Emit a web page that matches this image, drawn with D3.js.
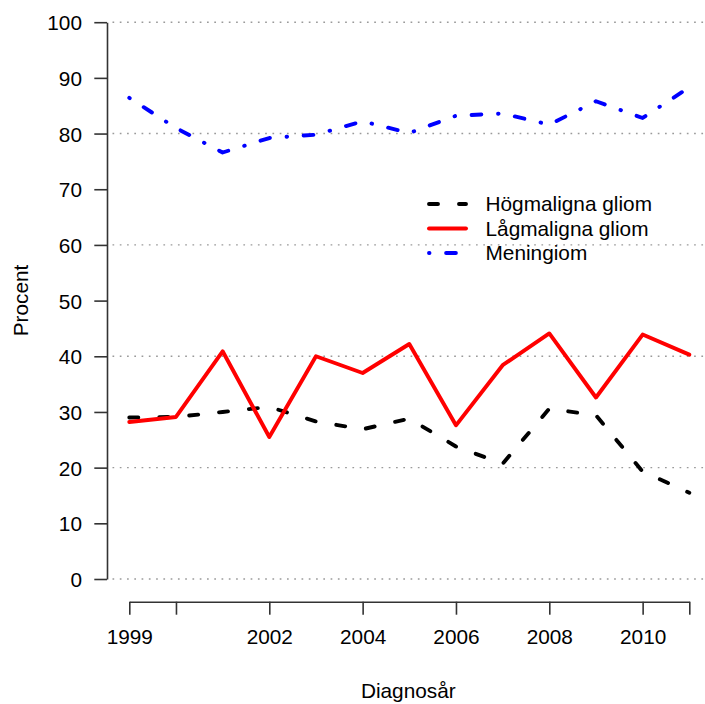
<!DOCTYPE html>
<html>
<head>
<meta charset="utf-8">
<script src="https://cdn.jsdelivr.net/npm/d3@7"></script>
<style>
  html, body { margin: 0; padding: 0; background: #fff; }
  svg { display: block; }
  text { font-family: "Liberation Sans", Arial, Helvetica, sans-serif; fill: #000; }
</style>
</head>
<body>
<svg id="chart" width="705" height="704"></svg>
<script>
// Diagnosis years
const years = [1999, 2000, 2001, 2002, 2003, 2004, 2005, 2006, 2007, 2008, 2009, 2010, 2011];

// Percentages per tumour type
const hogmaligna = [29.0, 29.1, 30.0, 30.9, 28.3, 26.9, 28.8, 23.8, 20.7, 30.6, 29.4, 19.3, 15.5];
const lagmaligna = [28.2, 29.1, 40.9, 25.5, 40.0, 37.0, 42.2, 27.6, 38.4, 44.1, 32.6, 43.9, 40.3];
const meningiom  = [86.4, 81.0, 76.6, 79.2, 79.8, 82.2, 80.1, 83.2, 83.6, 81.6, 85.8, 82.8, 88.3];

const seriesNames = ["Högmaligna gliom", "Lågmaligna gliom", "Meningiom"];
const seriesValues = [hogmaligna, lagmaligna, meningiom];

// Axis ticks and labels
const yTicks = [0, 10, 20, 30, 40, 50, 60, 70, 80, 90, 100];
const gridValues = [0, 20, 40, 60, 80, 100];
const xTicks = [1999, 2000, 2002, 2004, 2006, 2008, 2010, 2011];
const xLabelled = [1999, 2002, 2004, 2006, 2008, 2010];
const xTitle = "Diagnosår";
const yTitle = "Procent";

// Line styles per series
const lineStyles = {
  "Högmaligna gliom": { color: "#000000", dash: "9,21" },
  "Lågmaligna gliom": { color: "#ff0000", dash: null },
  "Meningiom":        { color: "#0000ff", dash: "0.5,16.6,9.8,16.7" }
};

const FONT = 20.8;
const svg = d3.select("#chart");

const x = d3.scaleLinear().domain([1999, 2011]).range([129.3, 689.3]);
const y = d3.scaleLinear().domain([0, 100]).range([579.0, 22.2]);
const axisX = 107;     // left edge of plot region
const axisY = 601.7;   // bottom edge of plot region

// dotted horizontal grid
svg.append("g")
  .selectAll("line")
  .data(gridValues)
  .join("line")
  .attr("x1", 112.5)
  .attr("x2", 712)
  .attr("y1", d => y(d))
  .attr("y2", d => y(d))
  .attr("stroke", "#9a9a9a")
  .attr("stroke-width", 1.4)
  .attr("stroke-dasharray", "1.7,5.57");

// y axis
const gy = svg.append("g")
  .attr("transform", `translate(${axisX},0)`)
  .call(d3.axisLeft(y).tickValues(yTicks).tickSize(12.7).tickSizeOuter(0).tickPadding(12.3));
gy.select(".domain").attr("stroke", "#333").attr("stroke-width", 1.6);
gy.selectAll(".tick line").attr("stroke", "#333").attr("stroke-width", 1.6);
gy.selectAll(".tick text")
  .attr("font-size", FONT)
  .attr("font-family", "Liberation Sans, Arial, sans-serif")
  .attr("fill", "#000")
  .attr("dy", "0.36em");

// x axis
const gx = svg.append("g")
  .attr("transform", `translate(0,${axisY})`)
  .call(d3.axisBottom(x).tickValues(xTicks).tickSize(13).tickSizeOuter(0).tickPadding(14.4)
    .tickFormat(d => xLabelled.includes(d) ? String(d) : ""));
gx.select(".domain").attr("stroke", "#333").attr("stroke-width", 1.6);
gx.selectAll(".tick line").attr("stroke", "#333").attr("stroke-width", 1.6);
gx.selectAll(".tick text")
  .attr("font-size", FONT)
  .attr("font-family", "Liberation Sans, Arial, sans-serif")
  .attr("fill", "#000");

// axis titles
svg.append("text")
  .attr("x", 408.3)
  .attr("y", 697.5)
  .attr("text-anchor", "middle")
  .attr("font-size", FONT)
  .text(xTitle);

svg.append("text")
  .attr("transform", "translate(27.5,300.5) rotate(-90)")
  .attr("text-anchor", "middle")
  .attr("font-size", FONT)
  .text(yTitle);

// series lines
const line = d3.line()
  .x((d, i) => x(years[i]))
  .y(d => y(d));

seriesNames.forEach((name, k) => {
  const st = lineStyles[name];
  svg.append("path")
    .datum(seriesValues[k])
    .attr("d", line)
    .attr("fill", "none")
    .attr("stroke", st.color)
    .attr("stroke-width", 3.9)
    .attr("stroke-linecap", "round")
    .attr("stroke-linejoin", "round")
    .attr("stroke-dasharray", st.dash);
});

// legend
const legend = svg.append("g");
const legendRows = [204, 228.5, 253];
seriesNames.forEach((name, k) => {
  const st = lineStyles[name];
  legend.append("line")
    .attr("x1", 429).attr("x2", 466)
    .attr("y1", legendRows[k]).attr("y2", legendRows[k])
    .attr("stroke", st.color)
    .attr("stroke-width", 3.9)
    .attr("stroke-linecap", "round")
    .attr("stroke-dasharray", st.dash);
  legend.append("text")
    .attr("x", 485.5)
    .attr("y", legendRows[k] + 7.3)
    .attr("font-size", FONT)
    .text(name);
});
</script>
</body>
</html>
